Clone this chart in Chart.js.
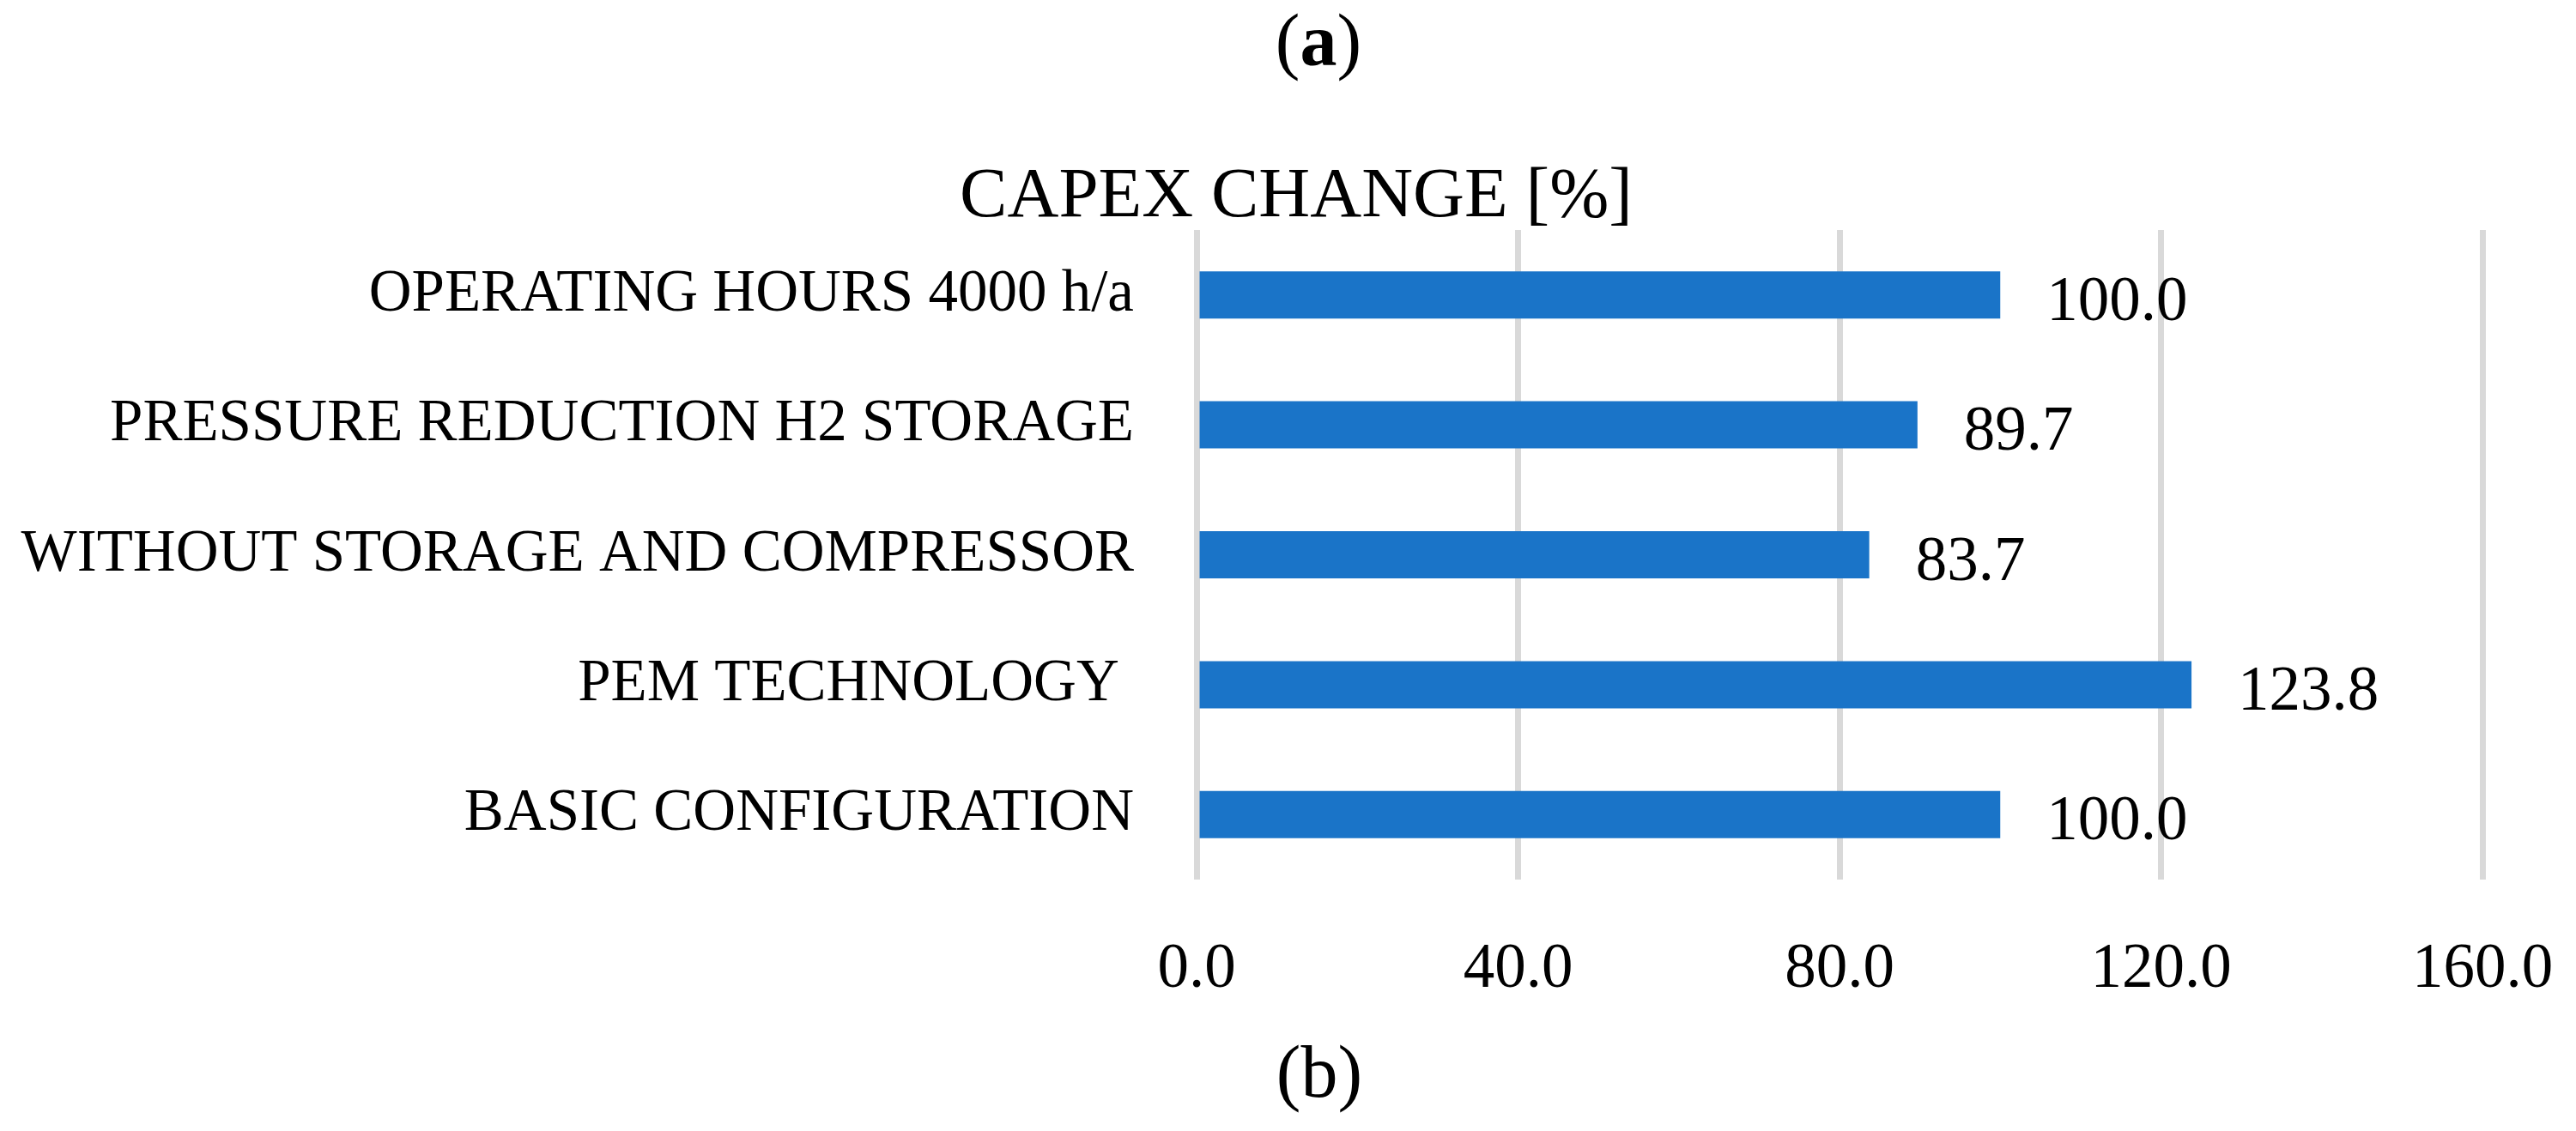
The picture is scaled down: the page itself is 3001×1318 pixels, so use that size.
<!DOCTYPE html>
<html>
<head>
<meta charset="utf-8">
<title>CAPEX change</title>
<script src="https://cdn.jsdelivr.net/npm/chart.js@4"></script>
<style>
  html, body { margin: 0; padding: 0; background: #fff; }
  #wrap { position: relative; width: 3001px; height: 1318px; }
  .panel {
    position: absolute;
    transform: translateX(-50%);
    font-family: "Liberation Serif", serif;
    font-size: 86px;
    line-height: 1;
    color: #000;
    white-space: nowrap;
  }
</style>
</head>
<body>
<div id="wrap">
  <canvas id="chartCapex" width="3001" height="1318"></canvas>
  <div class="panel" style="left:1536px; top:4px;">(<b>a</b>)</div>
  <div class="panel" style="left:1537px; top:1206px;">(b)</div>
</div>

<script>
/* ── Data ── */
const categories = [
  'OPERATING HOURS 4000 h/a',
  'PRESSURE REDUCTION H2 STORAGE',
  'WITHOUT STORAGE AND COMPRESSOR',
  'PEM TECHNOLOGY ',
  'BASIC CONFIGURATION',
];
const capexChange = [100.0, 89.7, 83.7, 123.8, 100.0];
const xTicks      = [0, 40, 80, 120, 160];
const chartTitle  = 'CAPEX CHANGE [%]';

const FONT = "'Liberation Serif', 'Times New Roman', serif";
const BAR_COLOR = '#1a74c8';

/* ── value labels on the right of each bar ── */
const barLabels = {
  id: 'barLabels',
  afterDatasetsDraw(chart) {
    const ctx = chart.ctx;
    const meta = chart.getDatasetMeta(0);
    ctx.save();
    ctx.font = `73px ${FONT}`;
    ctx.fillStyle = '#000';
    ctx.textAlign = 'left';
    ctx.textBaseline = 'alphabetic';
    meta.data.forEach((bar, i) => {
      ctx.fillText(capexChange[i].toFixed(1), bar.x + 54, bar.y + 29);
    });
    ctx.restore();
  },
};

/* ── title, centred a bit right of the canvas middle like the original ── */
const topTitle = {
  id: 'topTitle',
  afterDraw(chart) {
    const ctx = chart.ctx;
    ctx.save();
    ctx.font = `83px ${FONT}`;
    ctx.fillStyle = '#000';
    ctx.textAlign = 'center';
    ctx.textBaseline = 'alphabetic';
    ctx.fillText(chartTitle, 1510, 252);
    ctx.restore();
  },
};

new Chart(document.getElementById('chartCapex'), {
  type: 'bar',
  data: {
    labels: categories,
    datasets: [{
      label: chartTitle,
      data: capexChange,
      backgroundColor: BAR_COLOR,
      borderWidth: 0,
      categoryPercentage: 1,
      barPercentage: 0.363,
    }],
  },
  options: {
    indexAxis: 'y',
    responsive: false,
    animation: false,
    layout: { padding: { left: 15, right: 109, top: 268, bottom: 139 } },
    plugins: {
      legend: { display: false },
      tooltip: { enabled: false },
      title: { display: false },
    },
    scales: {
      x: {
        min: 0,
        max: 160,
        afterBuildTicks: s => { s.ticks = xTicks.map(v => ({ value: v })); },
        afterFit: s => { s.height = 154; s.paddingLeft = 0; s.paddingRight = 0; },
        grid: { color: '#d9d9d9', lineWidth: 7, drawTicks: false },
        border: { display: false },
        ticks: {
          color: '#000',
          padding: 62,
          font: { family: FONT, size: 73 },
          callback: v => Number(v).toFixed(1),
        },
      },
      y: {
        grid: { display: false, drawTicks: false },
        border: { display: false },
        afterFit: s => { s.width = 1379; s.paddingTop = 0; s.paddingBottom = 0; },
        ticks: {
          color: '#000',
          padding: 73,
          font: { family: FONT, size: 69 },
        },
      },
    },
  },
  plugins: [barLabels, topTitle],
});
</script>
</body>
</html>
